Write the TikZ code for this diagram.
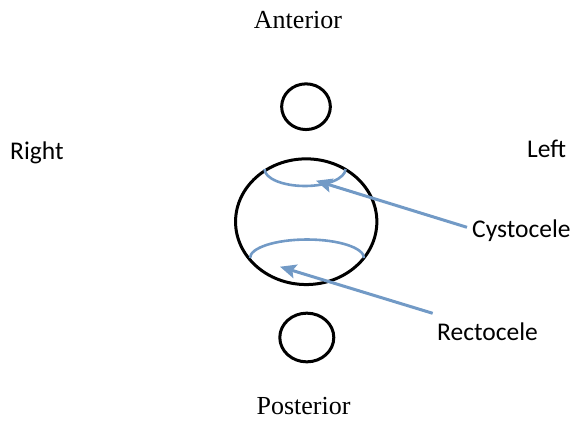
\documentclass[tikz,border=0pt]{standalone}
\usepackage{fontspec}
\setmainfont{Liberation Serif}
\newfontfamily\labelfont{Carlito}
\usetikzlibrary{shapes.geometric,arrows.meta}
\definecolor{arrowblue}{RGB}{114,154,198}
\tikzset{
  organ/.style={ellipse, draw=black, line width=3pt, inner sep=0pt, outer sep=0pt},
  bulge/.style={draw=arrowblue, line width=2.6pt},
  pointer/.style={draw=arrowblue, line width=3pt,
    -{Stealth[length=16pt, width=14pt, inset=3pt]}},
  axislabel/.style={font=\fontsize{26}{30}\selectfont, inner sep=0pt},
  sidelabel/.style={font=\labelfont\fontsize{25.5}{30}\selectfont, inner sep=0pt, anchor=base west}
}
\begin{document}
\begin{tikzpicture}[x=1pt, y=-1pt]
\useasboundingbox (0,0) rectangle (575,421);

% orientation labels
\node[axislabel, anchor=base] (anterior) at (298,28) {Anterior};
\node[axislabel, anchor=base] (posterior) at (303.5,414) {Posterior};
\node[sidelabel] (right) at (10,159) {Right};
\node[sidelabel] (left) at (527,157) {Left};

% openings
\node[organ, minimum width=48.7pt, minimum height=45.7pt] (urethra) at (306,106.7) {};
\node[organ, minimum width=141.3pt, minimum height=125.7pt] (vagina) at (306.2,221.7) {};
\node[organ, minimum width=54pt, minimum height=48.7pt] (anus) at (306.8,337.5) {};

% prolapse outlines (y axis points down, so angles run clockwise on screen)
\draw[bulge] (264.5,169) arc[start angle=180, end angle=0, x radius=40.5, y radius=17];
\draw[bulge] (250,258) arc[start angle=180, end angle=360, x radius=57, y radius=18.5];

% callouts
\node[sidelabel] (cysto) at (472,237) {Cystocele};
\node[sidelabel] (recto) at (437,340) {Rectocele};
\coordinate (cystoTail) at (467,227.3);
\coordinate (cystoTip) at (316,180.7);
\coordinate (rectoTail) at (432.7,313.3);
\coordinate (rectoTip) at (280,266.7);
\draw[pointer] (cystoTail) -- (cystoTip);
\draw[pointer] (rectoTail) -- (rectoTip);
\end{tikzpicture}
\end{document}
